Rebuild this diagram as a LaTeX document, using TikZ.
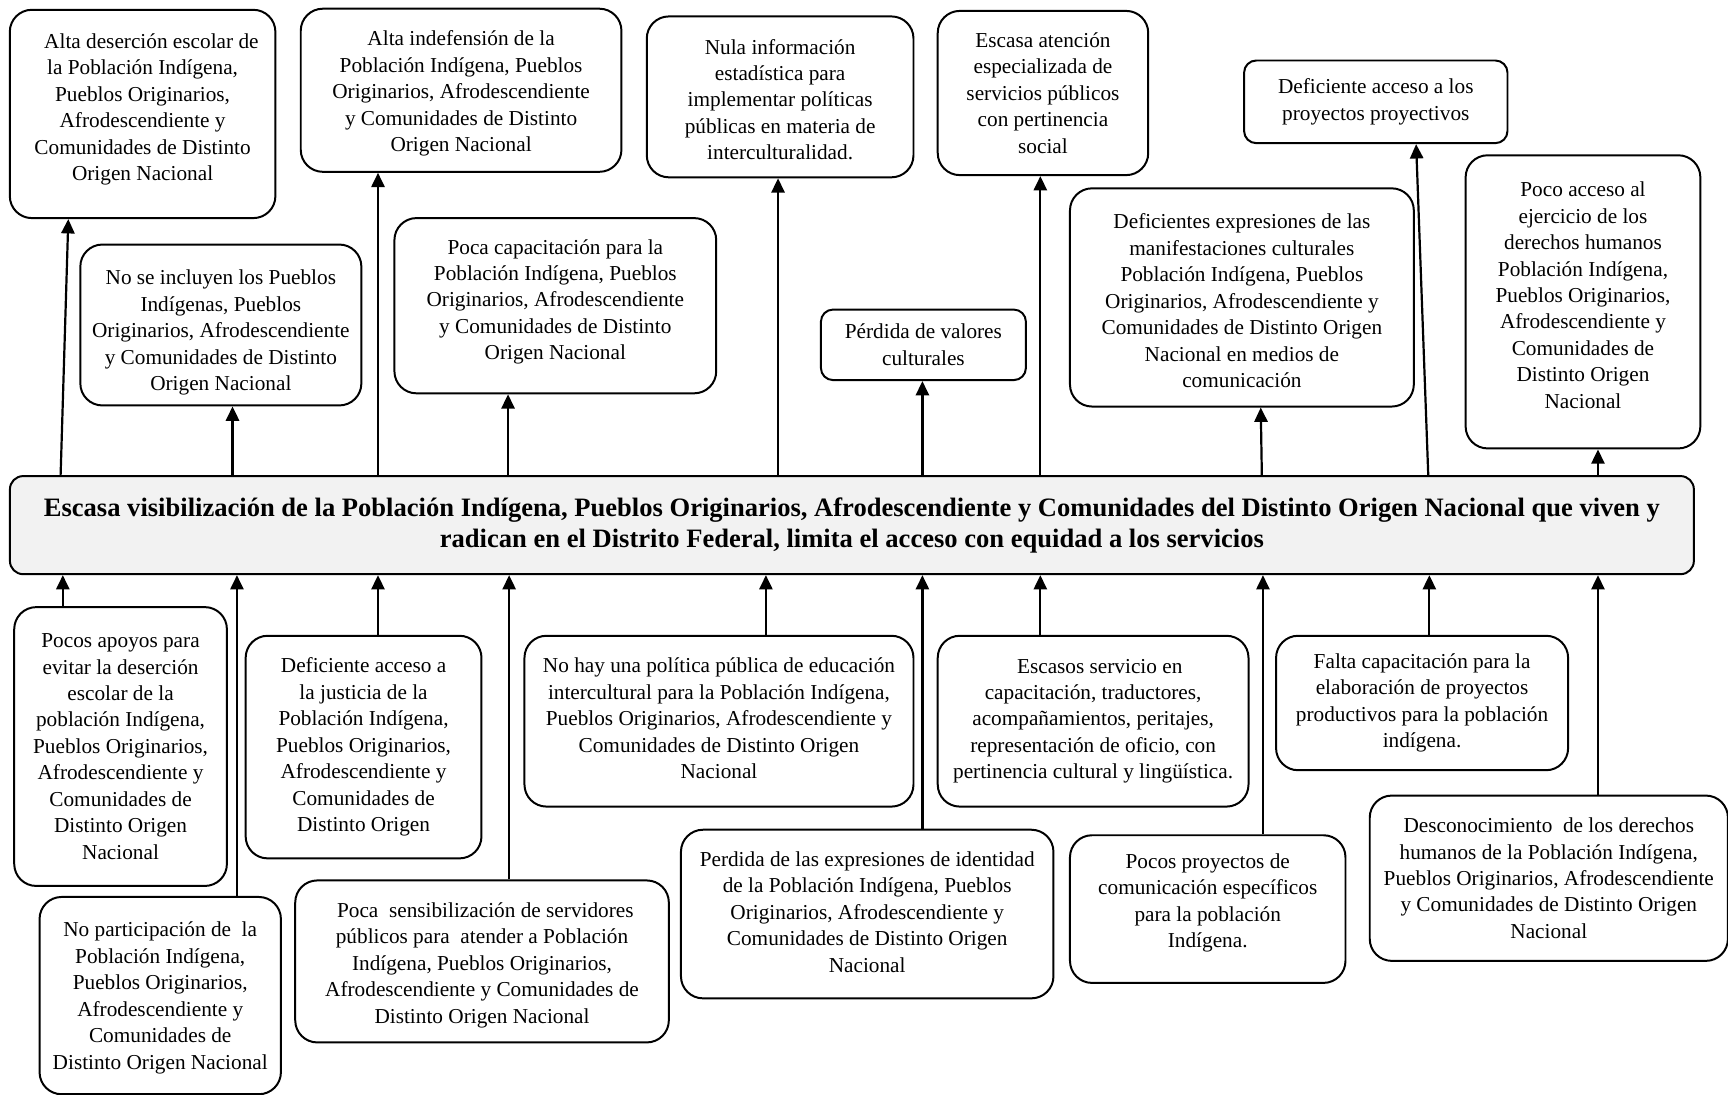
\documentclass[tikz,border=0pt]{standalone}
\usepackage{fontspec}
\setmainfont{Liberation Serif}
\usetikzlibrary{arrows.meta}
\definecolor{maingray}{HTML}{F2F2F2}
% #1 style, #2 name, #3 x1, #4 y1, #5 x2, #6 y2, #7 top shift, #8 text
\newcommand{\causebox}[8]{%
  \node[#1, anchor=north west] (#2) at (#3,#4)
   {\parbox[c][\dimexpr #6pt - #4pt\relax][c]{\dimexpr #5pt - #3pt\relax}{\vspace*{#7pt}\centering #8\par}};}
\tikzset{
  cb/.style={draw, line width=1.8pt, rounded corners=20pt, inner sep=0pt, fill=white,
    font=\fontsize{19.3}{24}\selectfont},
  cbs/.style={cb, rounded corners=11pt},
  mainbox/.style={draw, line width=1.8pt, rounded corners=12pt, fill=maingray,
    minimum width=1528pt, minimum height=89pt, align=center, inner sep=0pt,
    font=\bfseries\fontsize{24.1}{28}\selectfont},
  arr/.style={line width=2pt, -{Triangle[length=13pt,width=12pt]}}
}
\begin{document}
\begin{tikzpicture}[x=1pt,y=-1pt]
\useasboundingbox (0,0) rectangle (1568,993);

\node[mainbox] (main) at (773,476.5) {Escasa visibilización de la Población Indígena, Pueblos Originarios, Afrodescendiente y Comunidades del Distinto Origen Nacional que viven y\\radican en el Distrito Federal, limita el acceso con equidad a los servicios};

% top row
\causebox{cb}{t1}{8}{8}{249}{197}{-8}{\hspace*{16pt}Alta deserción escolar de\\la Población Indígena,\\Pueblos Originarios,\\Afrodescendiente y\\Comunidades de Distinto\\Origen Nacional}
\causebox{cb}{t2}{272}{7}{563}{155}{6}{Alta indefensión de la\\Población Indígena, Pueblos\\Originarios, Afrodescendiente\\y Comunidades de Distinto\\Origen Nacional}
\causebox{cb}{t3}{586}{14}{828}{160}{5}{Nula información\\estadística para\\implementar políticas\\públicas en materia de\\interculturalidad.}
\causebox{cb}{t4}{850}{9}{1041}{158}{0}{Escasa atención\\especializada de\\servicios públicos\\con pertinencia\\social}
\causebox{cbs}{t5}{1128}{54}{1367}{129}{0}{Deficiente acceso a los\\proyectos proyectivos}
\causebox{cb}{t6}{72}{221}{327}{367}{14}{No se incluyen los Pueblos\\Indígenas, Pueblos\\Originarios, Afrodescendiente\\y Comunidades de Distinto\\Origen Nacional}
\causebox{cb}{t7}{357}{197}{649}{356}{-7}{Poca capacitación para la\\Población Indígena, Pueblos\\Originarios, Afrodescendiente\\y Comunidades de Distinto\\Origen Nacional}
\causebox{cbs}{t8}{744}{280}{930}{344}{0}{Pérdida de valores\\culturales}
\causebox{cb}{t9}{970}{170}{1282}{368}{6}{Deficientes expresiones de las\\manifestaciones culturales\\Población Indígena, Pueblos\\Originarios, Afrodescendiente y\\Comunidades de Distinto Origen\\Nacional en medios de\\comunicación}
\causebox{cb}{t10}{1329}{140}{1542}{406}{-12}{Poco acceso al\\ejercicio de los\\derechos humanos\\Población Indígena,\\Pueblos Originarios,\\Afrodescendiente y\\Comunidades de\\Distinto Origen\\Nacional}

% bottom row
\causebox{cb}{b1}{12}{550}{205}{803}{0}{Pocos apoyos para\\evitar la deserción\\escolar de la\\población Indígena,\\Pueblos Originarios,\\Afrodescendiente y\\Comunidades de\\Distinto Origen\\Nacional}
\causebox{cb}{b2}{35}{813}{254}{992}{4}{No participación de\ \ la\\Población Indígena,\\Pueblos Originarios,\\Afrodescendiente y\\Comunidades de\\Distinto Origen Nacional}
\causebox{cb}{b3}{222}{576}{436}{778}{0}{Deficiente acceso a\\la justicia de la\\Población Indígena,\\Pueblos Originarios,\\Afrodescendiente y\\Comunidades de\\Distinto Origen}
\causebox{cb}{b4}{267}{798}{606}{945}{7}{\hspace*{6pt}Poca\ \ sensibilización de servidores\\públicos para\ \ atender a Población\\Indígena, Pueblos Originarios,\\Afrodescendiente y Comunidades de\\Distinto Origen Nacional}
\causebox{cb}{b5}{475}{576}{828}{731}{-5}{No hay una política pública de educación\\intercultural para la Población Indígena,\\Pueblos Originarios, Afrodescendiente y\\Comunidades de Distinto Origen\\Nacional}
\causebox{cb}{b6}{617}{752}{955}{905}{-4}{Perdida de las expresiones de identidad\\de la Población Indígena, Pueblos\\Originarios, Afrodescendiente y\\Comunidades de Distinto Origen\\Nacional}
\causebox{cb}{b7}{850}{576}{1132}{731}{0}{\hspace*{12pt}Escasos servicio en\\capacitación, traductores,\\acompañamientos, peritajes,\\representación de oficio, con\\pertinencia cultural y lingüística.}
\causebox{cb}{b8}{970}{757}{1220}{891}{-11}{Pocos proyectos de\\comunicación específicos\\para la población\\Indígena.}
\causebox{cb}{b9}{1157}{576}{1422}{698}{0}{Falta capacitación para la\\elaboración de proyectos\\productivos para la población\\indígena.}
\causebox{cb}{b10}{1242}{721}{1567}{871}{0}{Desconocimiento\ \ de los derechos\\humanos de la Población Indígena,\\Pueblos Originarios, Afrodescendiente\\y Comunidades de Distinto Origen\\Nacional}

% arrows to top row
\draw[arr] (main.north -| 55,0) -- (t1.south -| 62,0);
\draw[arr] (main.north -| 211,0) -- (t6.south -| 211,0);
\draw[arr] (main.north -| 343,0) -- (t2.south -| 343,0);
\draw[arr] (main.north -| 461,0) -- (t7.south -| 461,0);
\draw[arr] (main.north -| 706,0) -- (t3.south -| 706,0);
\draw[arr] (main.north -| 837,0) -- (t8.south -| 837,0);
\draw[arr] (main.north -| 944,0) -- (t4.south -| 944,0);
\draw[arr] (main.north -| 1145,0) -- (t9.south -| 1144,0);
\draw[arr] (main.north -| 1296,0) -- (t5.south -| 1285,0);
\draw[arr] (main.north -| 1450,0) -- (t10.south -| 1450,0);

% arrows from bottom row
\draw[arr] (b1.north -| 57,0) -- (main.south -| 57,0);
\draw[arr] (b2.north -| 215,0) -- (main.south -| 215,0);
\draw[arr] (b3.north -| 343,0) -- (main.south -| 343,0);
\draw[arr] (b4.north -| 462,0) -- (main.south -| 462,0);
\draw[arr] (b5.north -| 695,0) -- (main.south -| 695,0);
\draw[arr] (b6.north -| 837,0) -- (main.south -| 837,0);
\draw[arr] (b7.north -| 944,0) -- (main.south -| 944,0);
\draw[arr] (b8.north -| 1146,0) -- (main.south -| 1146,0);
\draw[arr] (b9.north -| 1297,0) -- (main.south -| 1297,0);
\draw[arr] (b10.north -| 1450,0) -- (main.south -| 1450,0);
\end{tikzpicture}
\end{document}
